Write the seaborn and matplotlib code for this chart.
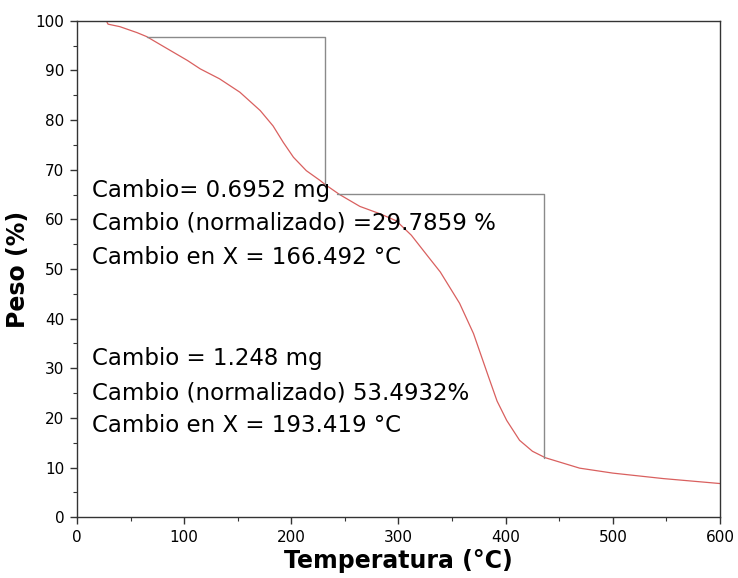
import matplotlib
matplotlib.use("Agg")
import matplotlib.pyplot as plt
import seaborn as sns
import pandas as pd
from matplotlib.ticker import MultipleLocator

# Data
temp = [28, 29, 40, 56, 65, 80, 103, 115, 133, 152, 171, 183, 192.5, 202, 214,
        227, 231, 245, 264, 283, 298, 312, 328, 339, 357, 370, 384, 392, 401, 413,
        425, 437, 469, 500, 547, 600]
weight = [99.7, 99.3, 98.8, 97.6, 96.8, 94.9, 92.0, 90.3, 88.3, 85.6, 81.9, 78.8,
          75.5, 72.5, 69.8, 67.8, 67.1, 65.0, 62.6, 61.1, 59.7, 56.8, 52.4, 49.4,
          43.1, 37.0, 28.3, 23.4, 19.5, 15.5, 13.3, 12.0, 9.9, 8.9, 7.8, 6.8]

step1_x = [65, 231, 231]
step1_y = [96.8, 96.8, 67.2]
step2_x = [243, 436, 436]
step2_y = [65.2, 65.2, 12.0]

block1 = ["Cambio= 0.6952 mg",
          "Cambio (normalizado) =29.7859 %",
          "Cambio en X = 166.492 \u00b0C"]
block2 = ["Cambio = 1.248 mg",
          "Cambio (normalizado) 53.4932%",
          "Cambio en X = 193.419 \u00b0C"]

sns.set_theme(style="ticks")
plt.rcParams['font.family'] = ['DejaVu Sans']

fig = plt.figure(figsize=(7.38, 5.78), dpi=100)
ax = fig.add_axes([0.1043, 0.105, 0.8713, 0.8592])

df = pd.DataFrame({"T": temp, "W": weight})
sns.lineplot(data=df, x="T", y="W", ax=ax, color="#d9605f", linewidth=0.9,
             sort=False, estimator=None)
s1 = pd.DataFrame({"x": step1_x, "y": step1_y})
s2 = pd.DataFrame({"x": step2_x, "y": step2_y})
sns.lineplot(data=s1, x="x", y="y", ax=ax, color="#8a8a8a", linewidth=1.0,
             sort=False, estimator=None)
sns.lineplot(data=s2, x="x", y="y", ax=ax, color="#8a8a8a", linewidth=1.0,
             sort=False, estimator=None)

ax.set_xlim(0, 600)
ax.set_ylim(0, 100)
ax.xaxis.set_major_locator(MultipleLocator(100))
ax.xaxis.set_minor_locator(MultipleLocator(50))
ax.yaxis.set_major_locator(MultipleLocator(10))
ax.yaxis.set_minor_locator(MultipleLocator(5))
ax.tick_params(which="major", direction="out", length=5, width=1, color="#333333",
               labelsize=11, labelcolor="black", pad=4)
ax.tick_params(which="minor", direction="out", length=3, width=0.8, color="#333333")
for sp in ax.spines.values():
    sp.set_color("#333333")
    sp.set_linewidth(1.0)

ax.set_xlabel("Temperatura (\u00b0C)", fontsize=17, fontweight="bold", labelpad=3,
              color="black")
ax.set_ylabel("Peso (%)", fontsize=17, fontweight="bold", labelpad=4, color="black")

y1 = [197, 229, 264]
y2 = [365, 399, 432]
for t, yp in zip(block1, y1):
    ax.text(92 / 738, 1 - yp / 578, t, transform=fig.transFigure, fontsize=16.5,
            ha="left", va="baseline", color="black")
for t, yp in zip(block2, y2):
    ax.text(92 / 738, 1 - yp / 578, t, transform=fig.transFigure, fontsize=16.5,
            ha="left", va="baseline", color="black")

fig.savefig("out.png", dpi=100)
